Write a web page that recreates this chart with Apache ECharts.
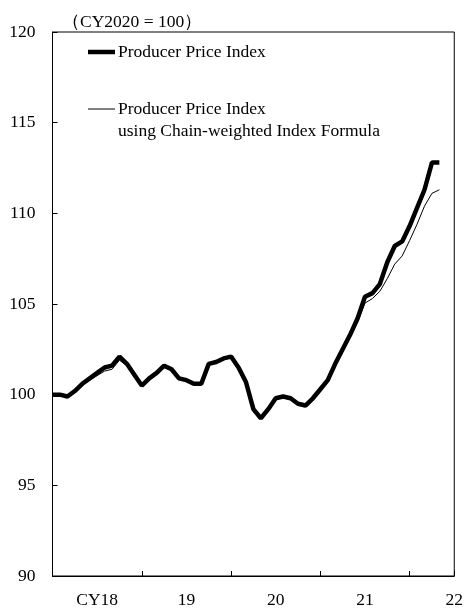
<!DOCTYPE html>
<html>
<head>
<meta charset="utf-8">
<script src="https://cdn.jsdelivr.net/npm/echarts@6/dist/echarts.min.js"></script>
<style>
html,body{margin:0;padding:0;background:#fff;}
#c{width:466px;height:609px;}
</style>
</head>
<body>
<div id="c"></div>
<script>
// Monthly, Jan 2018 .. May 2022
var months = ['2018-01','2018-02','2018-03','2018-04','2018-05','2018-06','2018-07','2018-08','2018-09','2018-10','2018-11','2018-12',
  '2019-01','2019-02','2019-03','2019-04','2019-05','2019-06','2019-07','2019-08','2019-09','2019-10','2019-11','2019-12',
  '2020-01','2020-02','2020-03','2020-04','2020-05','2020-06','2020-07','2020-08','2020-09','2020-10','2020-11','2020-12',
  '2021-01','2021-02','2021-03','2021-04','2021-05','2021-06','2021-07','2021-08','2021-09','2021-10','2021-11','2021-12',
  '2022-01','2022-02','2022-03','2022-04','2022-05'];
var ppi = [100.0,100.0,99.9,100.2,100.6,100.9,101.2,101.5,101.6,102.1,101.7,101.1,
  100.5,100.9,101.2,101.6,101.4,100.9,100.8,100.6,100.6,101.7,101.8,102.0,
  102.1,101.5,100.7,99.2,98.7,99.2,99.8,99.9,99.8,99.5,99.4,99.8,
  100.3,100.8,101.7,102.5,103.3,104.2,105.4,105.6,106.1,107.3,108.2,108.45,
  109.3,110.3,111.3,112.8,112.8];
var ppiChain = [100.0,100.0,99.9,100.1,100.5,100.8,101.05,101.3,101.4,101.9,101.6,101.05,
  100.5,100.85,101.15,101.5,101.35,100.9,100.8,100.6,100.6,101.7,101.8,102.0,
  102.1,101.5,100.7,99.2,98.7,99.2,99.8,99.9,99.8,99.5,99.4,99.8,
  100.25,100.7,101.6,102.35,103.15,104.0,105.05,105.3,105.7,106.4,107.2,107.65,
  108.5,109.4,110.4,111.1,111.3];
var yearLabels = {6:'CY18', 18:'19', 30:'20', 42:'21', 54:'22'};
var titleText = '（CY2020 = 100）';
var legendNames = ['Producer Price Index', 'Producer Price Index\nusing Chain-weighted Index Formula'];

var FONT = '"Liberation Serif","Times New Roman",serif';
var chart = echarts.init(document.getElementById('c'), null, {renderer:'canvas'});
function pairs(arr){ return arr.map(function(v,i){ return [i, v]; }); }

chart.setOption({
  animation: false,
  backgroundColor: '#fff',
  grid: {left: 52.5, right: 11, top: 32, bottom: 31, show: true, borderColor: '#000', borderWidth: 1, backgroundColor: 'transparent'},
  xAxis: [{
    type: 'value', min: 0, max: 54, interval: 12,
    axisLine: {show: true, lineStyle: {color: '#000', width: 1}},
    axisTick: {show: true, inside: true, length: 5, lineStyle: {color: '#000'}},
    axisLabel: {show: false},
    splitLine: {show: false}
  }, {
    type: 'value', min: 0, max: 54, interval: 6, position: 'bottom',
    axisLine: {show: false}, axisTick: {show: false}, splitLine: {show: false},
    axisLabel: {show: true, margin: 15, color: '#000', fontFamily: FONT, fontSize: 17.5,
      showMaxLabel: true, showMinLabel: true,
      formatter: function(v){ return yearLabels[v] || ''; }}
  }],
  yAxis: {
    type: 'value', min: 90, max: 120, interval: 5,
    axisLine: {show: true, lineStyle: {color: '#000', width: 1}},
    axisTick: {show: true, inside: true, length: 5, lineStyle: {color: '#000'}},
    axisLabel: {margin: 17, color: '#000', fontFamily: FONT, fontSize: 17.5},
    splitLine: {show: false}
  },
  series: [{
    name: legendNames[0], type: 'line', data: pairs(ppi), showSymbol: false, symbol: 'none',
    lineStyle: {color: '#000', width: 4.5}, z: 2
  }, {
    name: legendNames[1], type: 'line', data: pairs(ppiChain), showSymbol: false, symbol: 'none',
    lineStyle: {color: '#000', width: 1}, z: 3
  }],
  graphic: [
    {type: 'text', left: 62, top: 13, style: {text: titleText, font: '17.5px ' + FONT, fill: '#000'}},
    {type: 'line', shape: {x1: 88, y1: 52, x2: 115, y2: 52}, style: {stroke: '#000', lineWidth: 4.5}},
    {type: 'text', x: 118, y: 52, style: {text: legendNames[0], font: '17.5px ' + FONT, fill: '#000', verticalAlign: 'middle'}},
    {type: 'line', shape: {x1: 88, y1: 109, x2: 115, y2: 109}, style: {stroke: '#000', lineWidth: 1}},
    {type: 'text', x: 118, y: 98, style: {text: legendNames[1], font: '17.5px ' + FONT, lineHeight: 22, fill: '#000', verticalAlign: 'top'}}
  ]
});
</script>
</body>
</html>
